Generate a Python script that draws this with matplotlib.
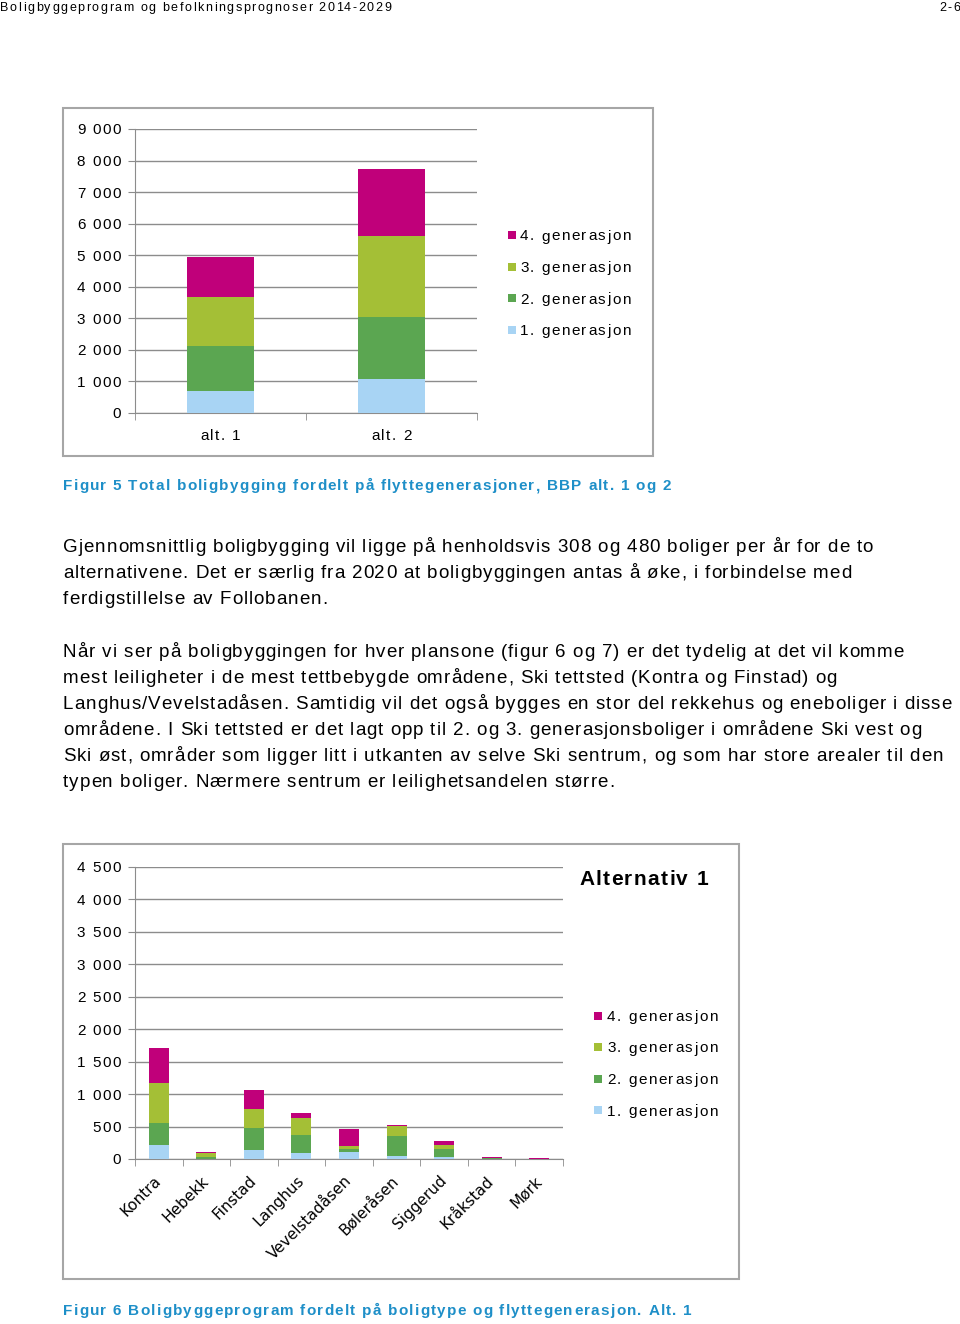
import matplotlib
matplotlib.use("Agg")
import matplotlib.pyplot as plt
from matplotlib.patches import Rectangle
from matplotlib.font_manager import FontProperties, findfont
from matplotlib.ft2font import FT2Font
import numpy as np

# ---------------- data ----------------
gen_labels = ["1. generasjon", "2. generasjon", "3. generasjon", "4. generasjon"]
colors = ["#a8d4f4", "#5ba651", "#a4bf36", "#c0007a"]

top_categories = ["alt. 1", "alt. 2"]
top_gen1 = [700, 1075]
top_gen2 = [1430, 1955]
top_gen3 = [1540, 2565]
top_gen4 = [1280, 2140]
top_yticks = [0, 1000, 2000, 3000, 4000, 5000, 6000, 7000, 8000, 9000]
top_yticklabels = ["0", "1 000", "2 000", "3 000", "4 000", "5 000", "6 000", "7 000", "8 000", "9 000"]

bot_categories = ["Kontra", "Hebekk", "Finstad", "Langhus", "Vevelstadåsen",
                  "Bøleråsen", "Siggerud", "Kråkstad", "Mørk"]
bot_gen1 = [211, 5, 144, 93, 110, 52, 31, 2, 1]
bot_gen2 = [341, 28, 330, 273, 50, 300, 124, 6, 2]
bot_gen3 = [618, 60, 299, 268, 35, 155, 56, 10, 3]
bot_gen4 = [546, 22, 284, 82, 260, 24, 62, 8, 5]
bot_yticks = [0, 500, 1000, 1500, 2000, 2500, 3000, 3500, 4000, 4500]
bot_yticklabels = ["0", "500", "1 000", "1 500", "2 000", "2 500", "3 000", "3 500", "4 000", "4 500"]

header_left = "Boligbyggeprogram og befolkningsprognoser 2014-2029"
header_right = "2-6"
caption5 = "Figur 5 Total boligbygging fordelt på flyttegenerasjoner, BBP alt. 1 og 2"
caption6 = "Figur 6 Boligbyggeprogram fordelt på boligtype og flyttegenerasjon. Alt. 1"
chart2_title = "Alternativ 1"
para1 = ["Gjennomsnittlig boligbygging vil ligge på henholdsvis 308 og 480 boliger per år for de to",
         "alternativene. Det er særlig fra 2020 at boligbyggingen antas å øke, i forbindelse med",
         "ferdigstillelse av Follobanen."]
para2 = ["Når vi ser på boligbyggingen for hver plansone (figur 6 og 7) er det tydelig at det vil komme",
         "mest leiligheter i de mest tettbebygde områdene, Ski tettsted (Kontra og Finstad) og",
         "Langhus/Vevelstadåsen. Samtidig vil det også bygges en stor del rekkehus og eneboliger i disse",
         "områdene. I Ski tettsted er det lagt opp til 2. og 3. generasjonsboliger i områdene Ski vest og",
         "Ski øst, områder som ligger litt i utkanten av selve Ski sentrum, og som har store arealer til den",
         "typen boliger. Nærmere sentrum er leilighetsandelen større."]

# ---------------- figure ----------------
W, H = 960, 1324
DPI = 100
fig = plt.figure(figsize=(W / DPI, H / DPI), dpi=DPI)
FONT = "Liberation Sans"
GRID = "#8c8c8c"
CAPBLUE = "#1e8fc8"


def fx(x):
    return x / W


def fy(y):
    return 1 - y / H


def fp_of(size, weight="normal"):
    return FontProperties(family=FONT, size=size, weight=weight)


def advances(s, fp):
    font = FT2Font(findfont(fp))
    font.set_size(fp.get_size_in_points(), DPI)
    return [font.load_char(ord(ch)).linearHoriAdvance / 65536.0 for ch in s]


def text_width(s, fp, track):
    adv = advances(s, fp)
    return sum(adv) + track * (len(s) - 1)


def tracking_for(s, fp, target):
    return (target - sum(advances(s, fp))) / (len(s) - 1)


def spaced(x, y, s, fp, track, ha="left", color="black"):
    """Letter-spaced text; x, y in top-origin pixels, y is the baseline."""
    adv = advances(s, fp)
    total = sum(adv) + track * (len(s) - 1)
    if ha == "right":
        x = x - total
    elif ha == "center":
        x = x - total / 2
    pos = x
    for ch, a in zip(s, adv):
        if ch != " ":
            fig.text(fx(pos), fy(y), ch, fontproperties=fp, ha="left",
                     va="baseline", color=color)
        pos += a + track


def axes_px(l, t, r, b):
    return fig.add_axes([fx(l), fy(b), (r - l) / W, (b - t) / H])


def frame(l, t, r, b):
    fig.patches.append(Rectangle((fx(l), fy(b)), (r - l) / W, (b - t) / H,
                                 transform=fig.transFigure, fill=False,
                                 edgecolor="#a6a6a6", lw=1.5))


def data_to_top_px(ax, x, y):
    dx, dy = ax.transData.transform((x, y))
    return dx, H - dy


def stacked(ax, cats, series, width):
    x = np.arange(len(cats))
    bottom = np.zeros(len(cats))
    handles = []
    for vals, c, lab in zip(series, colors, gen_labels):
        h = ax.bar(x, vals, width, bottom=bottom, color=c, label=lab, zorder=3)
        handles.append(h)
        bottom = bottom + np.array(vals)
    return handles


def style_axes(ax, ncat, yticks, ymax):
    ax.set_ylim(0, ymax)
    ax.set_xlim(-0.5, ncat - 0.5)
    ax.set_yticks(yticks)
    ax.set_yticklabels([])
    ax.tick_params(axis="y", length=5, color=GRID)
    ax.yaxis.grid(True, color=GRID, lw=1.0, zorder=0)
    ax.set_axisbelow(True)
    for s in ["top", "right"]:
        ax.spines[s].set_visible(False)
    ax.spines["left"].set_color(GRID)
    ax.spines["bottom"].set_color(GRID)
    ax.set_xticks(np.arange(-0.5, ncat, 1.0), minor=True)
    ax.tick_params(axis="x", which="minor", length=5, color=GRID)
    ax.tick_params(axis="x", which="major", length=0)
    ax.patch.set_alpha(0)


CHART_FP = fp_of(11)
CHART_TRACK = 1.5


def ytick_labels(ax, ticks, labels):
    for v, lab in zip(ticks, labels):
        _, py = data_to_top_px(ax, 0, v)
        spaced(121, py + 5.5, lab, CHART_FP, CHART_TRACK, ha="right")


def manual_legend(x_sq, x_txt, rows):
    for (yc, lab, c) in rows:
        fig.patches.append(Rectangle((fx(x_sq), fy(yc + 4)), 8 / W, 8 / H,
                                     transform=fig.transFigure, color=c, lw=0))
        spaced(x_txt, yc + 5.5, lab, CHART_FP, CHART_TRACK)


# header
hdr_fp = fp_of(9)
spaced(0, 11, header_left, hdr_fp, tracking_for(header_left, hdr_fp, 391))
spaced(960, 11, header_right, hdr_fp, 1.5, ha="right")

# ---------------- top chart ----------------
frame(63, 108, 653, 456)
ax1 = axes_px(135, 129, 477, 413)
stacked(ax1, top_categories, [top_gen1, top_gen2, top_gen3, top_gen4], 0.39)
style_axes(ax1, len(top_categories), top_yticks, 9000)
ax1.set_xticks(np.arange(len(top_categories)))
ax1.set_xticklabels([])
ytick_labels(ax1, top_yticks, top_yticklabels)
for i, cat in enumerate(top_categories):
    px_, _ = data_to_top_px(ax1, i, 0)
    spaced(px_, 440, cat, CHART_FP, CHART_TRACK, ha="center")
manual_legend(508, 520, [(235, gen_labels[3], colors[3]),
                         (266.5, gen_labels[2], colors[2]),
                         (298, gen_labels[1], colors[1]),
                         (329.5, gen_labels[0], colors[0])])

cap_fp = fp_of(11, "bold")
cap_track = tracking_for(caption5, cap_fp, 608)
spaced(63, 490, caption5, cap_fp, cap_track, color=CAPBLUE)

# ---------------- body text ----------------
body_fp = fp_of(13.5)
body_track = tracking_for(para1[0], body_fp, 810)
for i, line in enumerate(para1):
    spaced(63, 552.3 + 26 * i, line, body_fp, body_track)
for i, line in enumerate(para2):
    spaced(63, 657 + 26 * i, line, body_fp, body_track)

# ---------------- bottom chart ----------------
frame(63, 844, 739, 1279)
ax2 = axes_px(135, 867, 563, 1159)
stacked(ax2, bot_categories, [bot_gen1, bot_gen2, bot_gen3, bot_gen4], 0.42)
style_axes(ax2, len(bot_categories), bot_yticks, 4500)
ax2.set_xticks(np.arange(len(bot_categories)))
ax2.set_xticklabels(bot_categories, family="DejaVu Sans", fontsize=11,
                    rotation=45, ha="right", va="center", rotation_mode="anchor")
ax2.tick_params(axis="x", which="major", pad=14)
ytick_labels(ax2, bot_yticks, bot_yticklabels)
t_fp = fp_of(15, "bold")
spaced(579, 885, chart2_title, t_fp, tracking_for(chart2_title, t_fp, 129))
manual_legend(594, 607, [(1015.5, gen_labels[3], colors[3]),
                         (1047, gen_labels[2], colors[2]),
                         (1078.5, gen_labels[1], colors[1]),
                         (1110, gen_labels[0], colors[0])])

spaced(63, 1315, caption6, cap_fp, cap_track, color=CAPBLUE)

fig.savefig("out.png", dpi=DPI)
